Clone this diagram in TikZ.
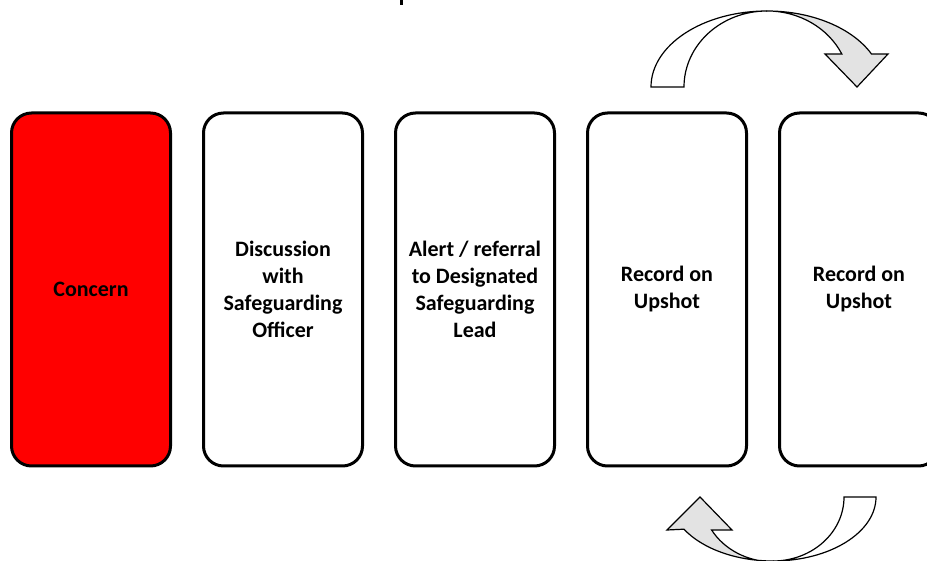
\documentclass[tikz,border=0pt]{standalone}
\usepackage{fontspec}
\setmainfont{Carlito}
\definecolor{conred}{HTML}{FF0000}
\definecolor{arrgrey}{HTML}{E3E3E3}
\begin{document}
\begin{tikzpicture}[x=0.75pt,y=0.75pt,
  stagebox/.style={draw=black, line width=2.25pt, rounded corners=15pt,
    minimum width=119.25pt, minimum height=264.75pt, align=center,
    font=\bfseries\fontsize{16.5}{20.25}\selectfont, inner sep=0pt},
  arrline/.style={draw=black, line width=0.9pt, line join=miter}]
\useasboundingbox (0,0) rectangle (927,560);
\clip (0,0) rectangle (927,560);
% tiny mark at top
\fill[black] (400,555) rectangle (403,560);
% boxes
\node[stagebox, fill=conred] (b1) at (91,270.5) {Concern};
\node[stagebox, fill=white] (b2) at (283,270.5) {Discussion\\with\\Safeguarding\\Officer};
\node[stagebox, fill=white] (b3) at (475,270.5) {Alert / referral\\to Designated\\Safeguarding\\Lead};
\node[stagebox, fill=white] (b4) at (667,270.5) {Record on\\Upshot};
\node[stagebox, fill=white] (b5) at (859,270.5) {Record on\\Upshot};
% top curved arrow
\coordinate (tc) at (767,473);
\path[arrline, fill=white] (651,473)
  arc[start angle=180, end angle=90, x radius=87pt, y radius=57pt]
  arc[start angle=90, end angle=180, x radius=62.25pt, y radius=57pt] -- cycle;
\path[arrline, fill=arrgrey] (767,549)
  arc[start angle=90, end angle=25.7, x radius=87pt, y radius=57pt]
  -- (888,506) -- (857,473) -- (825,506) -- (841.8,506)
  arc[start angle=25.7, end angle=90, x radius=62.25pt, y radius=57pt] -- cycle;
% bottom curved arrow
\path[arrline, fill=white] (876,63)
  arc[start angle=0, end angle=-90, x radius=77.25pt, y radius=48pt]
  arc[start angle=-90, end angle=0, x radius=53.25pt, y radius=48pt] -- cycle;
\path[arrline, fill=arrgrey] (773,-1)
  arc[start angle=270, end angle=210.2, x radius=77.25pt, y radius=48pt]
  -- (667,30) -- (700,63) -- (732,30) -- (711.6,30)
  arc[start angle=210.2, end angle=270, x radius=53.25pt, y radius=48pt] -- cycle;
\end{tikzpicture}
\end{document}
